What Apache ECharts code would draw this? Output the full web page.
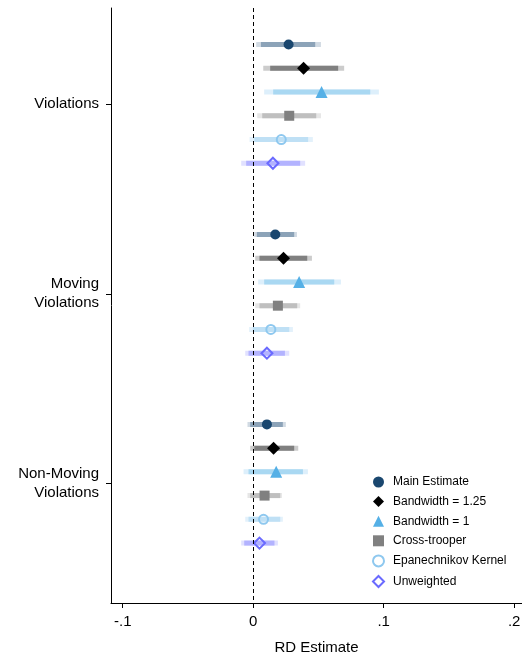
<!DOCTYPE html>
<html>
<head>
<meta charset="utf-8">
<script src="https://cdn.jsdelivr.net/npm/echarts@6/dist/echarts.min.js"></script>
<style>html,body{margin:0;padding:0;background:#fff}#c{width:522px;height:656px}</style>
</head>
<body>
<div id="c"></div>
<script>
// ---- data ----
const groups = ['Violations', 'Moving\nViolations', 'Non-Moving\nViolations'];
const seriesNames = ['Main Estimate', 'Bandwidth = 1.25', 'Bandwidth = 1', 'Cross-trooper', 'Epanechnikov Kernel', 'Unweighted'];
const xTicks = [-0.1, 0, 0.1, 0.2];
const xTickLabels = ['-.1', '0', '.1', '.2'];
// rows: series; columns: groups
const pointEstimates = [
  [0.0271, 0.0169, 0.0105],
  [0.0386, 0.0232, 0.0156],
  [0.0524, 0.0352, 0.0176],
  [0.0276, 0.0189, 0.0087],
  [0.0215, 0.0135, 0.0079],
  [0.0151, 0.0105, 0.0048]
];
const innerLow = [
  [0.0059, 0.0028, -0.0023],
  [0.0130, 0.0048, 0.0008],
  [0.0153, 0.0084, -0.0036],
  [0.0069, 0.0048, -0.0023],
  [0.0008, -0.0003, -0.0036],
  [-0.0054, -0.0036, -0.0069]
];
const innerHigh = [
  [0.0475, 0.0314, 0.0227],
  [0.0651, 0.0414, 0.0314],
  [0.0897, 0.0621, 0.0381],
  [0.0483, 0.0337, 0.0207],
  [0.0421, 0.0276, 0.0207],
  [0.0360, 0.0243, 0.0163]
];
const outerLow = [
  [0.0023, 0.0008, -0.0044],
  [0.0077, 0.0015, -0.0023],
  [0.0084, 0.0038, -0.0074],
  [0.0031, 0.0015, -0.0044],
  [-0.0028, -0.0031, -0.0061],
  [-0.0092, -0.0061, -0.0092]
];
const outerHigh = [
  [0.0519, 0.0335, 0.0250],
  [0.0697, 0.0450, 0.0345],
  [0.0963, 0.0672, 0.0419],
  [0.0519, 0.0360, 0.0220],
  [0.0457, 0.0304, 0.0227],
  [0.0398, 0.0276, 0.0189]
];

// ---- styles ----
const markerColors = ['#1a476f', '#000000', '#55b0e6', '#808080', '#8ec8ef', '#6a6aff'];
const innerColors = ['#8ca3b8', '#808080', '#a9d8f2', '#bfbfbf', '#bfe0f5', '#b3b3ff'];
const outerColors = ['#d1dae3', '#cccccc', '#ddeffb', '#e6e6e6', '#e3f1fb', '#e1e1ff'];
const symbols = ['circle', 'diamond', 'triangle', 'rect', 'circle', 'diamond'];
const symbolSizes = [10, 13, 12, 10, 9, 11];
const hollow = [false, false, false, false, true, true];
const rowStep = 0.125;

const font = '"Liberation Sans", Arial, Helvetica, sans-serif';
const series = [];
seriesNames.forEach((name, s) => {
  const rows = groups.map((g, gi) => [
    pointEstimates[s][gi], innerLow[s][gi], innerHigh[s][gi], outerLow[s][gi], outerHigh[s][gi],
    gi + 1 + (s - 2.5) * rowStep
  ]);
  series.push({
    type: 'custom',
    name: name + ' CI',
    z: 1,
    encode: { x: [1, 2, 3, 4], y: 5 },
    data: rows,
    renderItem: function (params, api) {
      const y = api.value(5);
      const h = 5;
      const oL = api.coord([api.value(3), y]);
      const oH = api.coord([api.value(4), y]);
      const iL = api.coord([api.value(1), y]);
      const iH = api.coord([api.value(2), y]);
      return {
        type: 'group',
        children: [
          { type: 'rect', shape: { x: oL[0], y: oL[1] - h / 2, width: oH[0] - oL[0], height: h }, style: { fill: outerColors[s] } },
          { type: 'rect', shape: { x: iL[0], y: iL[1] - h / 2, width: iH[0] - iL[0], height: h }, style: { fill: innerColors[s] } }
        ]
      };
    }
  });
  series.push({
    type: 'scatter',
    name: name,
    z: 3,
    symbol: symbols[s],
    symbolSize: symbolSizes[s],
    data: rows.map(r => [r[0], r[5]]),
    itemStyle: hollow[s]
      ? { color: 'rgba(255,255,255,0)', borderColor: markerColors[s], borderWidth: 2, opacity: 1 }
      : { color: markerColors[s], opacity: 1 },
    emphasis: { disabled: true }
  });
});
// zero reference line
series.push({
  type: 'line',
  name: 'zero',
  data: [],
  z: 4,
  markLine: {
    silent: true,
    symbol: 'none',
    label: { show: false },
    lineStyle: { color: '#000', width: 1, type: [4, 3] },
    data: [{ xAxis: 0 }]
  }
});

const chart = echarts.init(document.getElementById('c'), null, { renderer: 'canvas' });
chart.setOption({
  animation: false,
  backgroundColor: '#fff',
  textStyle: { fontFamily: font },
  grid: { left: 111, top: 8, right: 0, bottom: 53, containLabel: false, outerBoundsMode: 'none' },
  xAxis: {
    type: 'value',
    min: -0.109,
    max: 0.206,
    splitLine: { show: false },
    axisLine: { show: true, onZero: false, lineStyle: { color: '#000', width: 1 } },
    axisTick: { show: true, length: 5, customValues: xTicks, lineStyle: { color: '#000' } },
    axisLabel: {
      customValues: xTicks,
      color: '#000', fontSize: 15, fontFamily: font, margin: 11,
      formatter: v => { const i = xTicks.findIndex(t => Math.abs(t - v) < 1e-9); return i >= 0 ? xTickLabels[i] : ''; }
    },
    name: 'RD Estimate',
    nameLocation: 'middle',
    nameGap: 37,
    nameTextStyle: { color: '#000', fontSize: 15, fontFamily: font }
  },
  yAxis: {
    type: 'value',
    inverse: true,
    min: 0.495,
    max: 3.628,
    splitLine: { show: false },
    axisLine: { show: true, onZero: false, lineStyle: { color: '#000', width: 1 } },
    axisTick: { show: true, length: 5, customValues: [1, 2, 3], lineStyle: { color: '#000' } },
    axisLabel: {
      customValues: [1, 2, 3],
      color: '#000', fontSize: 15, lineHeight: 19, fontFamily: font, margin: 12, align: 'right',
      formatter: v => groups[Math.round(v) - 1] || ''
    }
  },
  legend: {
    orient: 'vertical',
    left: 372,
    top: 476,
    padding: 0,
    itemWidth: 11,
    itemHeight: 11,
    itemGap: 7.6,
    data: seriesNames,
    textStyle: { color: '#000', fontSize: 12, fontFamily: font, padding: [0, 0, 0, 4] },
    selectedMode: false
  },
  series: series
});
</script>
</body>
</html>
